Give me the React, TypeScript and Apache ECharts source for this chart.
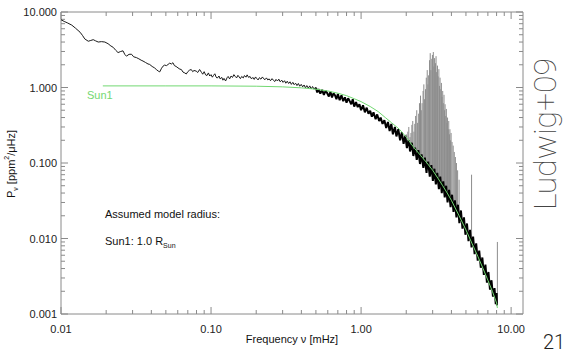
import React, { useEffect, useRef } from 'react';
import * as echarts from 'echarts';

const X_MIN = 0.01;
const X_MAX = 12;
const Y_MIN = 0.001;
const Y_MAX = 10;
const X_MAJOR_TICKS = [0.01, 0.1, 1, 10];
const Y_MAJOR_TICKS = [0.001, 0.01, 0.1, 1, 10];
const MINOR_STEPS = [2, 3, 4, 5, 6, 7, 8, 9];

// Low-frequency part of the observed spectrum (thin line)
const lowFreqSpectrum: [number, number][] = [
  [0.0100, 7.9], [0.0105, 7.5], [0.0110, 7.2], [0.0118, 6.7], [0.0125, 6.1], [0.0134, 5.4],
  [0.0139, 4.9], [0.0144, 4.4], [0.0152, 4.1], [0.0158, 4.2], [0.0164, 4.3], [0.0170, 4.15],
  [0.0177, 4.0], [0.0186, 4.05], [0.0196, 4.0], [0.0206, 3.8], [0.0215, 3.55], [0.0223, 3.4],
  [0.0232, 3.1], [0.0240, 2.9], [0.0250, 3.0], [0.0259, 3.06], [0.0266, 2.75], [0.0273, 2.6],
  [0.0284, 2.75], [0.0295, 2.76], [0.0305, 2.55], [0.0318, 2.49], [0.0330, 2.4], [0.0342, 2.3],
  [0.0352, 2.24], [0.0365, 2.15], [0.0380, 2.05], [0.0390, 2.02], [0.0405, 1.9], [0.0420, 1.82],
  [0.0432, 1.73], [0.0445, 1.65], [0.0455, 1.61], [0.0468, 1.8], [0.0479, 1.92], [0.0490, 1.98],
  [0.0505, 1.95], [0.0517, 2.02], [0.0530, 2.1], [0.0545, 2.05], [0.0557, 2.13], [0.0570, 1.95],
  [0.0585, 1.9], [0.0602, 1.82], [0.0620, 1.75], [0.0634, 1.73], [0.0650, 1.6], [0.0668, 1.56],
  [0.0684, 1.51], [0.0700, 1.62], [0.0720, 1.7], [0.0738, 1.73], [0.0755, 1.62], [0.0770, 1.68],
  [0.0796, 1.65], [0.0815, 1.58], [0.0839, 1.73], [0.0865, 1.58], [0.088, 1.50], [0.090, 1.62],
  [0.092, 1.47], [0.094, 1.44], [0.096, 1.56], [0.098, 1.42], [0.100, 1.48], [0.102, 1.37],
  [0.104, 1.45], [0.106, 1.52], [0.108, 1.38], [0.110, 1.33], [0.113, 1.42], [0.115, 1.30],
  [0.118, 1.36], [0.120, 1.25], [0.122, 1.32], [0.125, 1.22], [0.128, 1.35], [0.130, 1.40],
  [0.133, 1.30], [0.136, 1.42], [0.139, 1.36], [0.142, 1.48], [0.145, 1.40], [0.148, 1.34],
  [0.151, 1.45], [0.154, 1.38], [0.157, 1.31], [0.160, 1.40], [0.164, 1.34], [0.167, 1.44],
  [0.171, 1.37], [0.174, 1.47], [0.178, 1.36], [0.182, 1.40], [0.186, 1.30], [0.190, 1.36],
  [0.194, 1.28], [0.198, 1.38], [0.202, 1.31], [0.206, 1.26], [0.210, 1.35], [0.215, 1.29],
  [0.220, 1.38], [0.224, 1.31], [0.229, 1.27], [0.234, 1.34], [0.239, 1.26], [0.244, 1.30],
  [0.249, 1.23], [0.255, 1.31], [0.260, 1.25], [0.266, 1.20], [0.271, 1.28], [0.277, 1.22],
  [0.283, 1.29], [0.289, 1.19], [0.296, 1.25], [0.302, 1.17], [0.309, 1.23], [0.315, 1.14],
  [0.322, 1.21], [0.329, 1.13], [0.336, 1.19], [0.343, 1.10], [0.351, 1.17], [0.358, 1.09],
  [0.366, 1.14], [0.374, 1.06], [0.382, 1.13], [0.390, 1.04], [0.399, 1.10], [0.408, 1.02],
  [0.417, 1.08], [0.426, 0.99], [0.435, 1.06], [0.445, 0.98], [0.455, 1.05], [0.465, 0.96],
  [0.475, 1.03], [0.486, 0.95], [0.497, 1.01], [0.500, 0.99],
];

// High-frequency part of the observed spectrum (dense band)
const bandSpectrum: [number, number][] = [
  [0.500, 0.99], [0.510, 0.86], [0.520, 0.95], [0.535, 0.83], [0.550, 0.93], [0.565, 0.80],
  [0.580, 0.90], [0.595, 0.84], [0.610, 0.76], [0.625, 0.88], [0.640, 0.74], [0.655, 0.84],
  [0.670, 0.79], [0.685, 0.70], [0.700, 0.82], [0.720, 0.68], [0.740, 0.79], [0.760, 0.66],
  [0.780, 0.74], [0.800, 0.63], [0.820, 0.72], [0.840, 0.66], [0.860, 0.60], [0.880, 0.70],
  [0.900, 0.56], [0.925, 0.64], [0.950, 0.55], [0.975, 0.60], [1.000, 0.50], [1.030, 0.58],
  [1.060, 0.47], [1.090, 0.54], [1.120, 0.45], [1.150, 0.49], [1.180, 0.41], [1.210, 0.47],
  [1.250, 0.38], [1.280, 0.44], [1.320, 0.36], [1.350, 0.40], [1.390, 0.33], [1.430, 0.37],
  [1.470, 0.29], [1.510, 0.35], [1.550, 0.265], [1.590, 0.33], [1.630, 0.24], [1.680, 0.30],
  [1.720, 0.225], [1.770, 0.28], [1.820, 0.20], [1.870, 0.255], [1.920, 0.18], [1.970, 0.23],
  [2.020, 0.158], [2.070, 0.20], [2.100, 0.17], [2.120, 0.142], [2.180, 0.185], [2.230, 0.124],
  [2.290, 0.16], [2.350, 0.11], [2.410, 0.148], [2.440, 0.118], [2.470, 0.097], [2.530, 0.13],
  [2.600, 0.086], [2.660, 0.118], [2.730, 0.074], [2.760, 0.092], [2.800, 0.104], [2.870, 0.066],
  [2.940, 0.094], [3.010, 0.058], [3.080, 0.084], [3.110, 0.066], [3.150, 0.052], [3.220, 0.074],
  [3.300, 0.045], [3.370, 0.066], [3.450, 0.040], [3.490, 0.050], [3.530, 0.057], [3.610, 0.035],
  [3.690, 0.050], [3.770, 0.030], [3.860, 0.044], [3.900, 0.034], [3.950, 0.026], [4.040, 0.038],
  [4.130, 0.0225], [4.220, 0.032], [4.320, 0.019], [4.370, 0.024], [4.420, 0.028], [4.520, 0.016],
  [4.630, 0.0235], [4.740, 0.0135], [4.850, 0.019], [4.900, 0.0148], [4.960, 0.0112], [5.080, 0.0158],
  [5.200, 0.0092], [5.320, 0.013], [5.450, 0.0076], [5.510, 0.0092], [5.580, 0.0106], [5.710, 0.0062],
  [5.850, 0.0086], [5.990, 0.0051], [6.130, 0.0069], [6.200, 0.0054], [6.280, 0.0041], [6.430, 0.0056],
  [6.580, 0.0033], [6.740, 0.0045], [6.900, 0.0026], [6.980, 0.0031], [7.060, 0.0036], [7.230, 0.0021],
  [7.400, 0.0028], [7.570, 0.0017], [7.750, 0.0022], [7.900, 0.00135], [8.000, 0.0019], [8.050, 0.0013],
];

// Model "Sun1"
const modelSun1: [number, number][] = [
  [0.019, 1.05], [0.05, 1.05], [0.1, 1.05], [0.2, 1.04], [0.3, 1.02], [0.4, 0.99], [0.5, 0.95],
  [0.6, 0.9], [0.7, 0.84], [0.8, 0.78], [0.9, 0.71], [1.0, 0.65], [1.15, 0.56], [1.3, 0.48],
  [1.45, 0.40], [1.6, 0.34], [1.8, 0.28], [2.0, 0.22], [2.25, 0.16], [2.5, 0.125], [2.75, 0.1],
  [3.0, 0.08], [3.25, 0.063], [3.5, 0.05], [3.75, 0.04], [4.0, 0.032], [4.5, 0.02], [5.0, 0.013],
  [5.5, 0.0085], [6.0, 0.0058], [6.5, 0.004], [7.0, 0.0028], [7.5, 0.002], [8.0, 0.0014], [8.1, 0.0012],
];

// p-mode peaks (grey spikes): frequency, peak power, power at foot
const spikeFreq = [
  2.00, 2.05, 2.08, 2.12, 2.15, 2.18, 2.21, 2.25, 2.28, 2.31, 2.35, 2.38, 2.42, 2.45, 2.49, 2.52,
  2.55, 2.59, 2.62, 2.65, 2.69, 2.72, 2.76, 2.79, 2.82, 2.86, 2.89, 2.92, 2.96, 2.99, 3.03, 3.06,
  3.09, 3.13, 3.16, 3.19, 3.23, 3.26, 3.30, 3.33, 3.36, 3.40, 3.43, 3.46, 3.50, 3.53, 3.57, 3.60,
  3.63, 3.67, 3.70, 3.74, 3.77, 3.81, 3.84, 3.88, 3.91, 3.95, 3.98, 4.04, 4.11, 4.18, 4.25, 4.32,
  4.40, 4.50, 5.45, 8.10,
];
const spikeTop = [
  0.24, 0.26, 0.30, 0.22, 0.25, 0.32, 0.36, 0.26, 0.33, 0.42, 0.50, 0.34, 0.45, 0.62, 0.78, 0.50,
  0.62, 0.90, 1.10, 0.70, 0.95, 1.35, 1.70, 1.10, 1.45, 2.30, 2.85, 1.70, 2.40, 2.70, 2.95, 1.90,
  2.45, 2.10, 2.60, 1.60, 1.95, 1.40, 1.75, 1.05, 1.35, 0.95, 1.15, 0.75, 0.90, 0.62, 0.80, 0.50,
  0.60, 0.42, 0.52, 0.34, 0.40, 0.28, 0.36, 0.24, 0.28, 0.20, 0.25, 0.19, 0.17, 0.14, 0.12, 0.10,
  0.08, 0.06, 0.07, 0.009,
];
const spikeBase = [
  0.19, 0.18, 0.175, 0.165, 0.16, 0.155, 0.148, 0.142, 0.138, 0.133, 0.128, 0.124, 0.12, 0.115, 0.11, 0.107,
  0.104, 0.1, 0.097, 0.094, 0.091, 0.088, 0.085, 0.082, 0.08, 0.077, 0.075, 0.072, 0.07, 0.068, 0.066, 0.064,
  0.062, 0.06, 0.058, 0.056, 0.055, 0.053, 0.051, 0.05, 0.048, 0.047, 0.045, 0.044, 0.043, 0.042, 0.04, 0.039,
  0.038, 0.037, 0.036, 0.035, 0.034, 0.033, 0.032, 0.031, 0.03, 0.029, 0.028, 0.027, 0.025, 0.024, 0.022, 0.021,
  0.02, 0.018, 0.0095, 0.0014,
];

const FONT = '"Liberation Sans", Arial, Helvetica, sans-serif';
const AXIS_COLOR = '#8a8a8a';
const GREEN = '#72d872';

function isPow10(v: number) {
  const l = Math.log10(v);
  return Math.abs(l - Math.round(l)) < 1e-6;
}

export default function App() {
  const ref = useRef<HTMLDivElement>(null);
  useEffect(() => {
    if (!ref.current) return;
    const chart = echarts.init(ref.current, undefined, { renderer: 'svg' });

    const tickData: number[][] = [];
    X_MAJOR_TICKS.forEach((v) => tickData.push([v, Y_MIN, 0]));
    X_MAJOR_TICKS.slice(0, 3).forEach((d) => MINOR_STEPS.forEach((m) => tickData.push([d * m, Y_MIN, 1])));
    Y_MAJOR_TICKS.forEach((v) => tickData.push([X_MIN, v, 2]));
    Y_MAJOR_TICKS.slice(0, 4).forEach((d) => MINOR_STEPS.forEach((m) => tickData.push([X_MIN, d * m, 3])));

    const tickStyle = { stroke: AXIS_COLOR, lineWidth: 1 };

    const option: any = {
      animation: false,
      backgroundColor: '#ffffff',
      grid: {
        left: 61, right: 45, top: 12, bottom: 41,
        show: true, borderColor: AXIS_COLOR, borderWidth: 1, backgroundColor: 'transparent',
      },
      xAxis: {
        type: 'log', logBase: 10, min: X_MIN, max: X_MAX,
        axisLine: { show: false }, axisTick: { show: false }, splitLine: { show: false },
        axisLabel: {
          margin: 9, fontSize: 11, fontFamily: FONT, color: '#222',
          showMaxLabel: true, showMinLabel: true,
          formatter: (v: number) => (isPow10(v) ? v.toFixed(2) : ''),
        },
      },
      yAxis: {
        type: 'log', logBase: 10, min: Y_MIN, max: Y_MAX,
        axisLine: { show: false }, axisTick: { show: false }, splitLine: { show: false },
        axisLabel: {
          margin: 4, fontSize: 11, fontFamily: FONT, color: '#222',
          formatter: (v: number) => (isPow10(v) ? v.toFixed(3) : ''),
        },
      },
      series: [
        {
          type: 'custom', name: 'ticks', clip: false, silent: true,
          data: tickData, encode: { x: 0, y: 1 },
          renderItem: (params: any, api: any) => {
            const kind = api.value(2);
            if (kind < 2) {
              const v = api.value(0);
              const b = api.coord([v, Y_MIN]);
              const t = api.coord([v, Y_MAX]);
              const len = kind === 0 ? 7 : 4;
              return {
                type: 'group', children: [
                  { type: 'line', shape: { x1: b[0], y1: b[1], x2: b[0], y2: b[1] - len }, style: tickStyle },
                  { type: 'line', shape: { x1: t[0], y1: t[1], x2: t[0], y2: t[1] + len }, style: tickStyle },
                ],
              };
            }
            const v = api.value(1);
            const l = api.coord([X_MIN, v]);
            const r = api.coord([X_MAX, v]);
            const len = kind === 2 ? 7 : 4;
            return {
              type: 'group', children: [
                { type: 'line', shape: { x1: l[0], y1: l[1], x2: l[0] + len, y2: l[1] }, style: tickStyle },
                { type: 'line', shape: { x1: r[0], y1: r[1], x2: r[0] - len, y2: r[1] }, style: tickStyle },
              ],
            };
          },
        },
        {
          type: 'custom', name: 'peaks', silent: true,
          data: spikeFreq.map((f, i) => [f, spikeTop[i], spikeBase[i]]),
          encode: { x: 0, y: 1 },
          renderItem: (params: any, api: any) => {
            const f = api.value(0);
            const t = api.coord([f, api.value(1)]);
            const b = api.coord([f, api.value(2)]);
            return {
              type: 'line', shape: { x1: t[0], y1: t[1], x2: b[0], y2: b[1] },
              style: { stroke: '#8c8c8c', lineWidth: 1 },
            };
          },
        },
        {
          type: 'line', name: 'spectrum-low', data: lowFreqSpectrum, showSymbol: false, silent: true,
          lineStyle: { color: '#1a1a1a', width: 1 },
        },
        {
          type: 'line', name: 'spectrum-band', data: bandSpectrum, showSymbol: false, silent: true,
          lineStyle: { color: '#000000', width: 2 },
        },
        {
          type: 'line', name: 'Sun1', data: modelSun1, showSymbol: false, silent: true,
          lineStyle: { color: GREEN, width: 1 },
        },
      ],
      graphic: [
        { type: 'text', x: 87, y: 95, style: { text: 'Sun1', fontSize: 11, fontFamily: FONT, fill: GREEN, align: 'left', verticalAlign: 'middle' } },
        { type: 'text', x: 105, y: 214, style: { text: 'Assumed model radius:', fontSize: 11, fontFamily: FONT, fill: '#111', align: 'left', verticalAlign: 'middle' } },
        {
          type: 'text', x: 105, y: 241,
          style: {
            text: '{a|Sun1: 1.0 R}{s|Sun}', align: 'left', verticalAlign: 'middle',
            rich: {
              a: { fontSize: 11, fontFamily: FONT, fill: '#111', lineHeight: 16 },
              s: { fontSize: 7, fontFamily: FONT, fill: '#111', lineHeight: 6, verticalAlign: 'bottom' },
            },
          },
        },
        {
          type: 'text', x: 11, y: 164, rotation: Math.PI / 2,
          style: {
            text: '{p|P}{s|ν}{p| [ppm}{u|2}{p|/μHz]}', align: 'center', verticalAlign: 'middle',
            rich: {
              p: { fontSize: 11, fontFamily: FONT, fill: '#111', lineHeight: 16 },
              s: { fontSize: 7, fontFamily: FONT, fill: '#111', lineHeight: 6, verticalAlign: 'bottom' },
              u: { fontSize: 7, fontFamily: FONT, fill: '#111', lineHeight: 8, verticalAlign: 'top' },
            },
          },
        },
        { type: 'text', x: 292, y: 339, style: { text: 'Frequency ν [mHz]', fontSize: 11, fontFamily: FONT, fill: '#111', align: 'center', verticalAlign: 'middle' } },
        { type: 'text', x: 545, y: 134, rotation: Math.PI / 2, style: { text: 'Ludwig+09', fontSize: 32, fontFamily: 'Roboto', fontWeight: 100, fill: '#444', align: 'center', verticalAlign: 'middle' } },
        { type: 'text', x: 543, y: 332, style: { text: '21', fontSize: 20, fontFamily: 'Roboto', fontWeight: 300, fill: '#222', align: 'left', verticalAlign: 'top' } },
      ],
    };
    chart.setOption(option);
    return () => chart.dispose();
  }, []);
  return <div ref={ref} style={{ position: 'fixed', left: 0, top: 0, width: 568, height: 355 }} />;
}
